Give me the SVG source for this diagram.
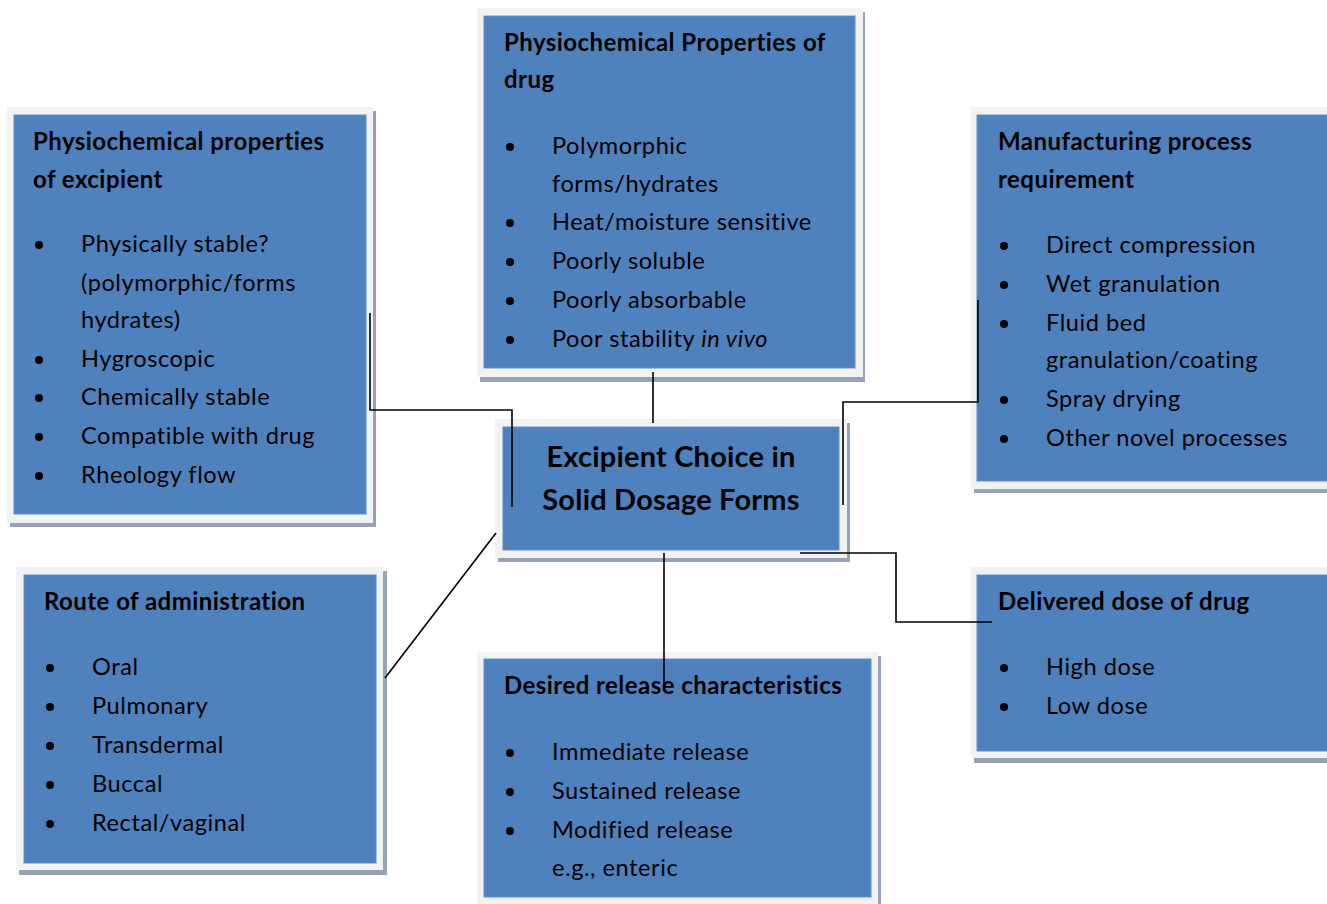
<svg xmlns="http://www.w3.org/2000/svg" width="1327" height="904" viewBox="0 0 1327 904">
<style>
.sh{fill:#95a3b4}
.fr{fill:#f2f2f2}
.bx{fill:#4f81bd;stroke:#5f8fca;stroke-width:1}
text{font-family:Lato,"Open Sans","Liberation Sans",sans-serif;fill:#000;font-size:23.6px;letter-spacing:0.55px}
.t{font-weight:bold;font-size:24px;letter-spacing:0.45px}
.c{font-weight:bold;font-size:29px;letter-spacing:0.2px;text-anchor:middle}
.dot{fill:#000}
.ln{fill:none;stroke:#000;stroke-width:1.6}
</style>
<rect width="1327" height="904" fill="#fff"/>

<g id="excipient">
<rect class="sh" x="10" y="111" width="366" height="416"/>
<rect class="fr" x="7" y="107" width="366" height="416"/>
<rect class="bx" x="14" y="115" width="352" height="399"/>
<text class="t" x="33" y="150">Physiochemical properties</text>
<text class="t" x="33" y="188">of excipient</text>
<circle class="dot" cx="39" cy="245" r="4"/><text x="81" y="252">Physically stable?</text>
<text x="81" y="291">(polymorphic/forms</text>
<text x="81" y="328">hydrates)</text>
<circle class="dot" cx="39" cy="360" r="4"/><text x="81" y="367">Hygroscopic</text>
<circle class="dot" cx="39" cy="398" r="4"/><text x="81" y="405">Chemically stable</text>
<circle class="dot" cx="39" cy="437" r="4"/><text x="81" y="444">Compatible with drug</text>
<circle class="dot" cx="39" cy="476" r="4"/><text x="81" y="483">Rheology flow</text>
</g>

<g id="drug">
<rect class="sh" x="480" y="12" width="385" height="370"/>
<rect class="fr" x="477" y="8" width="386" height="369"/>
<rect class="bx" x="484" y="16" width="371" height="352"/>
<text class="t" x="504" y="51">Physiochemical Properties of</text>
<text class="t" x="504" y="88">drug</text>
<circle class="dot" cx="510" cy="147" r="4"/><text x="552" y="154">Polymorphic</text>
<text x="552" y="192">forms/hydrates</text>
<circle class="dot" cx="510" cy="223" r="4"/><text x="552" y="230">Heat/moisture sensitive</text>
<circle class="dot" cx="510" cy="262" r="4"/><text x="552" y="269">Poorly soluble</text>
<circle class="dot" cx="510" cy="301" r="4"/><text x="552" y="308">Poorly absorbable</text>
<circle class="dot" cx="510" cy="340" r="4"/><text x="552" y="347">Poor stability <tspan font-style="italic">in vivo</tspan></text>
</g>

<g id="manufacturing">
<rect class="sh" x="974" y="111" width="360" height="382"/>
<rect class="fr" x="971" y="107" width="360" height="382"/>
<rect class="bx" x="977" y="115" width="360" height="366"/>
<text class="t" x="998" y="150">Manufacturing process</text>
<text class="t" x="998" y="188">requirement</text>
<circle class="dot" cx="1004" cy="246" r="4"/><text x="1046" y="253">Direct compression</text>
<circle class="dot" cx="1004" cy="285" r="4"/><text x="1046" y="292">Wet granulation</text>
<circle class="dot" cx="1004" cy="324" r="4"/><text x="1046" y="331">Fluid bed</text>
<text x="1046" y="368">granulation/coating</text>
<circle class="dot" cx="1004" cy="400" r="4"/><text x="1046" y="407">Spray drying</text>
<circle class="dot" cx="1004" cy="439" r="4"/><text x="1046" y="446">Other novel processes</text>
</g>

<g id="center">
<rect class="sh" x="498" y="423" width="352" height="139"/>
<rect class="fr" x="495" y="419" width="352" height="139"/>
<rect class="bx" x="503" y="427" width="336" height="123"/>
<text class="c" x="671" y="467">Excipient Choice in</text>
<text class="c" x="671" y="510">Solid Dosage Forms</text>
</g>

<g id="route">
<rect class="sh" x="19" y="571" width="368" height="304"/>
<rect class="fr" x="16" y="567" width="367" height="303"/>
<rect class="bx" x="24" y="575" width="352" height="288"/>
<text class="t" x="44" y="610">Route of administration</text>
<circle class="dot" cx="50" cy="668" r="4"/><text x="92" y="675">Oral</text>
<circle class="dot" cx="50" cy="707" r="4"/><text x="92" y="714">Pulmonary</text>
<circle class="dot" cx="50" cy="746" r="4"/><text x="92" y="753">Transdermal</text>
<circle class="dot" cx="50" cy="785" r="4"/><text x="92" y="792">Buccal</text>
<circle class="dot" cx="50" cy="824" r="4"/><text x="92" y="831">Rectal/vaginal</text>
</g>

<g id="dose">
<rect class="sh" x="974" y="571" width="360" height="192"/>
<rect class="fr" x="971" y="567" width="360" height="191"/>
<rect class="bx" x="977" y="575" width="360" height="176"/>
<text class="t" x="998" y="610">Delivered dose of drug</text>
<circle class="dot" cx="1004" cy="668" r="4"/><text x="1046" y="675">High dose</text>
<circle class="dot" cx="1004" cy="707" r="4"/><text x="1046" y="714">Low dose</text>
</g>

<g id="release">
<rect class="sh" x="480" y="656" width="401" height="260"/>
<rect class="fr" x="477" y="652" width="401" height="260"/>
<rect class="bx" x="484" y="659" width="387" height="238"/>
<text class="t" x="504" y="694">Desired release characteristics</text>
<circle class="dot" cx="510" cy="753" r="4"/><text x="552" y="760">Immediate release</text>
<circle class="dot" cx="510" cy="792" r="4"/><text x="552" y="799">Sustained release</text>
<circle class="dot" cx="510" cy="831" r="4"/><text x="552" y="838">Modified release</text>
<text x="552" y="876">e.g., enteric</text>
</g>

<g id="connectors">
<polyline class="ln" points="370,313 370,410 512,410 512,507"/>
<line class="ln" x1="653" y1="372" x2="653" y2="423"/>
<polyline class="ln" points="978,300 978,402 843,402 843,505"/>
<line class="ln" x1="385" y1="678" x2="496" y2="533"/>
<line class="ln" x1="664" y1="553" x2="664" y2="690"/>
<polyline class="ln" points="800,553 896,553 896,622 992,622"/>
</g>
</svg>
